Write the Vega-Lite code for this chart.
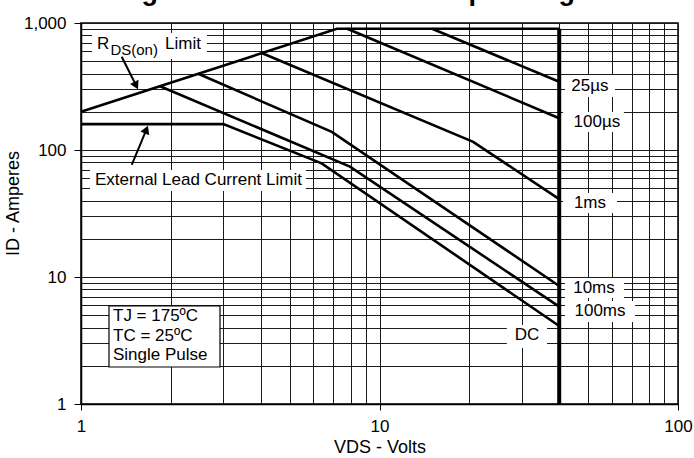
{
  "$schema": "https://vega.github.io/schema/vega-lite/v6.json",
  "width": 597,
  "height": 381,
  "autosize": {"type": "none"},
  "padding": {"left": 81, "top": 23, "right": 16, "bottom": 54},
  "background": "white",
  "title": {
    "text": "Figure 11. Maximum Safe Operating Area",
    "font": "Liberation Sans",
    "fontSize": 27,
    "fontWeight": "bold",
    "color": "black",
    "anchor": "middle",
    "frame": "group",
    "baseline": "alphabetic",
    "offset": 0,
    "dy": 13
  },
  "config": {
    "font": "Liberation Sans",
    "view": {"stroke": "black", "strokeWidth": 1.5},
    "axis": {
      "grid": true,
      "gridColor": "#1a1a1a",
      "gridWidth": 1,
      "gridOpacity": 1,
      "domainColor": "black",
      "domainWidth": 1.5,
      "tickColor": "black",
      "tickWidth": 1,
      "labelFont": "Liberation Sans",
      "labelFontSize": 17,
      "labelColor": "black",
      "labelOverlap": false,
      "labelFlush": false,
      "titleFont": "Liberation Sans",
      "titleFontSize": 18,
      "titleFontWeight": "normal",
      "titleColor": "black"
    }
  },
  "datasets": {
    "curves": [
      {"s": "RDS(on) Limit", "o": 1, "V": 1, "I": 200},
      {"s": "RDS(on) Limit", "o": 2, "V": 7.2, "I": 900},
      {"s": "RDS(on) Limit", "o": 3, "V": 40, "I": 900},
      {"s": "25µs", "o": 1, "V": 15, "I": 900},
      {"s": "25µs", "o": 2, "V": 40, "I": 345},
      {"s": "100µs", "o": 1, "V": 7.8, "I": 900},
      {"s": "100µs", "o": 2, "V": 40, "I": 178},
      {"s": "1ms", "o": 1, "V": 4.03, "I": 580},
      {"s": "1ms", "o": 2, "V": 20.6, "I": 116},
      {"s": "1ms", "o": 3, "V": 40, "I": 41},
      {"s": "10ms", "o": 1, "V": 2.47, "I": 398},
      {"s": "10ms", "o": 2, "V": 6.92, "I": 139},
      {"s": "10ms", "o": 3, "V": 40, "I": 8.5},
      {"s": "100ms", "o": 1, "V": 1.84, "I": 318},
      {"s": "100ms", "o": 2, "V": 7.96, "I": 74},
      {"s": "100ms", "o": 3, "V": 40, "I": 5.84},
      {"s": "DC", "o": 1, "V": 1, "I": 160},
      {"s": "DC", "o": 2, "V": 3, "I": 160},
      {"s": "DC", "o": 3, "V": 6.4, "I": 78.5},
      {"s": "DC", "o": 4, "V": 40, "I": 4.11}
    ],
    "vline": [
      {"V": 40, "I": 900},
      {"V": 40, "I": 1}
    ],
    "boxes": [
      {"V": 1.089, "V2": 2.643, "I": 834, "I2": 520},
      {"V": 1.072, "V2": 5.67, "I": 69.6, "I2": 47.5},
      {"V": 41.8, "V2": 61.5, "I": 389.6, "I2": 261.5},
      {"V": 41.2, "V2": 65.9, "I": 199, "I2": 138.6},
      {"V": 41.2, "V2": 62.5, "I": 45.9, "I2": 31.9},
      {"V": 41.8, "V2": 65.9, "I": 9.82, "I2": 6.83},
      {"V": 41.8, "V2": 71.8, "I": 6.47, "I2": 4.42},
      {"V": 26.7, "V2": 36.4, "I": 4.19, "I2": 2.76}
    ],
    "tbox": [
      {"V": 1.241, "V2": 2.922, "I": 5.91, "I2": 1.956}
    ],
    "arrows": [
      {"s": "a", "o": 1, "V": 1.369, "I": 543},
      {"s": "a", "o": 2, "V": 1.53, "I": 322},
      {"s": "b", "o": 1, "V": 1.479, "I": 76.2},
      {"s": "b", "o": 2, "V": 1.656, "I": 144.7}
    ],
    "headA": [{"V": 1.53, "I": 322}],
    "headB": [{"V": 1.656, "I": 144.7}],
    "ctext": [
      {"t": "25µs", "V": 50.7, "I": 319},
      {"t": "100µs", "V": 53.5, "I": 166},
      {"t": "1ms", "V": 50.7, "I": 38.2},
      {"t": "10ms", "V": 52.3, "I": 8.19},
      {"t": "100ms", "V": 54.8, "I": 5.4},
      {"t": "DC", "V": 31.2, "I": 3.49}
    ],
    "ltext": [
      {"t": "External Lead Current Limit", "V": 1.114, "I": 58.0},
      {"t": "TJ = 175ºC", "V": 1.28, "I": 4.96},
      {"t": "TC  = 25ºC", "V": 1.28, "I": 3.45},
      {"t": "Single Pulse", "V": 1.28, "I": 2.43},
      {"t": "R", "V": 1.131, "I": 683},
      {"t": "Limit", "V": 1.912, "I": 683}
    ],
    "subtext": [
      {"t": "DS(on)", "V": 1.255, "I": 610}
    ]
  },
  "encoding": {
    "x": {
      "field": "V",
      "type": "quantitative",
      "scale": {"type": "log", "domain": [1, 100], "nice": false},
      "axis": {
        "title": "VDS - Volts",
        "values": [1, 2, 3, 4, 5, 6, 7, 8, 9, 10, 20, 30, 40, 50, 60, 70, 80, 90, 100],
        "format": ",",
        "labelExpr": "indexof([1, 10, 100], datum.value) >= 0 ? datum.label : ''",
        "tickSize": 6,
        "tickOpacity": {"condition": {"test": "indexof([1, 10, 100], datum.value) >= 0", "value": 1}, "value": 0},
        "labelPadding": 8,
        "titlePadding": 4
      }
    },
    "y": {
      "field": "I",
      "type": "quantitative",
      "scale": {"type": "log", "domain": [1, 1000], "nice": false},
      "axis": {
        "title": "ID - Amperes",
        "values": [1, 2, 3, 4, 5, 6, 7, 8, 9, 10, 20, 30, 40, 50, 60, 70, 80, 90, 100, 200, 300, 400, 500, 600, 700, 800, 900, 1000],
        "format": ",",
        "labelExpr": "indexof([1, 10, 100, 1000], datum.value) >= 0 ? datum.label : ''",
        "tickSize": 7,
        "tickOpacity": {"condition": {"test": "indexof([1, 10, 100, 1000], datum.value) >= 0", "value": 1}, "value": 0},
        "labelPadding": 8,
        "titlePadding": 1,
        "titleY": 180
      }
    }
  },
  "layer": [
    {
      "data": {"name": "boxes"},
      "mark": {"type": "rect", "fill": "white", "strokeWidth": 0},
      "encoding": {"x2": {"field": "V2"}, "y2": {"field": "I2"}}
    },
    {
      "data": {"name": "tbox"},
      "mark": {"type": "rect", "fill": "white", "stroke": "black", "strokeWidth": 1.2},
      "encoding": {"x2": {"field": "V2"}, "y2": {"field": "I2"}}
    },
    {
      "data": {"name": "curves"},
      "mark": {"type": "line", "color": "black", "strokeWidth": 2.6, "strokeJoin": "miter"},
      "encoding": {"detail": {"field": "s"}, "order": {"field": "o"}}
    },
    {
      "data": {"name": "vline"},
      "mark": {"type": "line", "color": "black", "strokeWidth": 4},
      "encoding": {}
    },
    {
      "data": {"name": "arrows"},
      "mark": {"type": "line", "color": "black", "strokeWidth": 2},
      "encoding": {"detail": {"field": "s"}, "order": {"field": "o"}}
    },
    {
      "data": {"name": "headA"},
      "mark": {"type": "point", "shape": "triangle-down", "filled": true, "color": "black", "opacity": 1, "size": 90, "angle": 333.5}
    },
    {
      "data": {"name": "headB"},
      "mark": {"type": "point", "shape": "triangle-up", "filled": true, "color": "black", "opacity": 1, "size": 90, "angle": 22.5}
    },
    {
      "data": {"name": "ctext"},
      "mark": {"type": "text", "align": "center", "baseline": "middle", "fontSize": 17, "color": "black", "font": "Liberation Sans"},
      "encoding": {"text": {"field": "t"}}
    },
    {
      "data": {"name": "ltext"},
      "mark": {"type": "text", "align": "left", "baseline": "middle", "fontSize": 17, "color": "black", "font": "Liberation Sans"},
      "encoding": {"text": {"field": "t"}}
    },
    {
      "data": {"name": "subtext"},
      "mark": {"type": "text", "align": "left", "baseline": "middle", "fontSize": 15, "color": "black", "font": "Liberation Sans"},
      "encoding": {"text": {"field": "t"}}
    }
  ]
}
